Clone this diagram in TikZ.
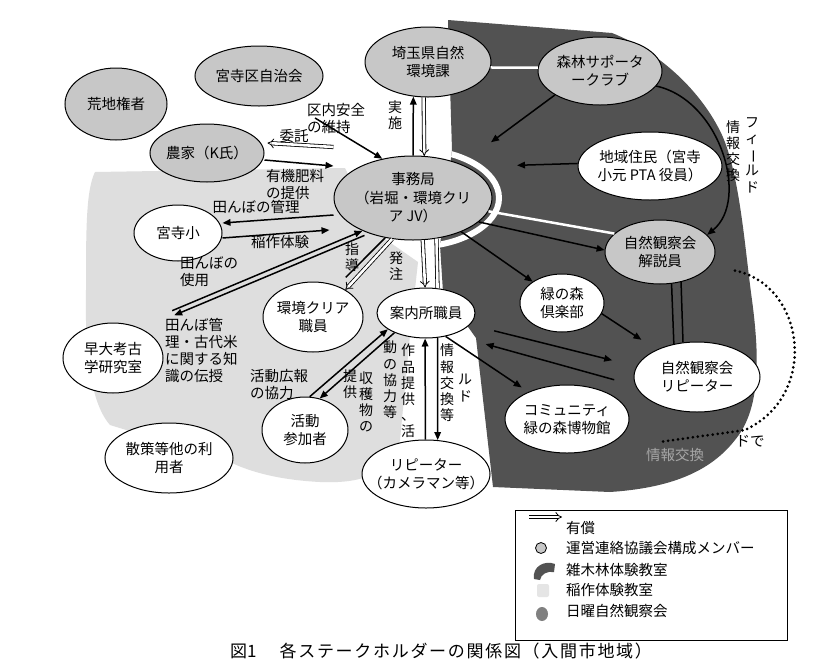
\documentclass[tikz,border=0pt]{standalone}
\usepackage{fontspec}
\usepackage{graphicx}
\setmainfont{Noto Sans CJK JP}
\usetikzlibrary{arrows.meta,shapes.geometric}
\newcommand{\zb}[1]{\raisebox{-5.2pt}{\makebox[0pt]{\begin{tabular}{@{}c@{}}#1\end{tabular}}}}
\newcommand{\vbar}{\rotatebox[origin=c]{-90}{ー}}
\begin{document}
\begin{tikzpicture}[x=1pt,y=-1pt]
\tikzset{
  nd/.style={ellipse, draw=black, line width=1pt, inner sep=0pt, text height=0pt, text depth=0pt, font=\fontsize{14.5}{18.5}\selectfont},
  gnd/.style={nd, fill=black!22},
  wnd/.style={nd, fill=white},
  lbl/.style={font=\fontsize{14.5}{17}\selectfont, inner sep=0pt, align=center},
  vlbl/.style={font=\fontsize{14}{16.2}\selectfont, inner sep=0pt, align=center},
  lbll/.style={lbl, align=left, anchor=west},
  blkline/.style={line width=1.5pt, black},
  blk/.style={blkline, -{Triangle[length=8pt,width=6.5pt]}},
  hol/.style={double=white, double distance=2.6pt, line width=0.8pt, -{Implies}},
  dotline/.style={line width=3pt, dash pattern=on 0pt off 5pt, line cap=round},
}
\useasboundingbox (0,0) rectangle (836,670);
\fill[white] (0,0) rectangle (836,670);
% light region
\fill[black!13] (95,172) -- (345,168) -- (375,232) -- (418,262) -- (410,335) -- (400,440) .. controls (392,472) and (365,484) .. (320,482) .. controls (280,480) and (250,472) .. (230,462) -- (110,425) .. controls (88,400) and (85,340) .. (86,290) .. controls (86,230) and (86,190) .. (95,172) -- cycle;
% dark region
\fill[black!68] (448,20) -- (612,33) .. controls (660,52) and (702,92) .. (722,135) .. controls (740,175) and (745,250) .. (752,300) .. controls (760,360) and (760,410) .. (735,440) .. controls (710,472) and (670,488) .. (610,492) -- (493,487) -- (476,338) -- (443,292) -- (440,245) -- (452,150) -- cycle;
\begin{scope}
\clip (448,20) -- (612,33) .. controls (660,52) and (702,92) .. (722,135) .. controls (740,175) and (745,250) .. (752,300) .. controls (760,360) and (760,410) .. (735,440) .. controls (710,472) and (670,488) .. (610,492) -- (493,487) -- (476,338) -- (443,292) -- (440,245) -- (452,150) -- cycle;
\draw[white, line width=6pt] (413,198) ellipse [x radius=86pt, y radius=49pt];
\end{scope}

% nodes
\node[gnd, minimum width=102pt, minimum height=72pt] (arechi) at (116,104) {\zb{荒地権者}};
\node[gnd, minimum width=128pt, minimum height=60pt] (jichi) at (259,76) {\zb{宮寺区自治会}};
\node[gnd, minimum width=126pt, minimum height=70pt] (saitama) at (428,62) {\zb{埼玉県自然\\環境課}};
\node[gnd, minimum width=124pt, minimum height=68pt] (shinrin) at (600,71) {\zb{森林サポータ\\ークラブ}};
\node[gnd, minimum width=114pt, minimum height=58pt] (nouka) at (207,153) {\zb{農家（K氏）}};
\node[gnd, minimum width=158pt, minimum height=84pt] (jimu) at (413,198) {\zb{事務局\\（岩堀・環境クリ\\ア JV）}};
\node[wnd, minimum width=144pt, minimum height=68pt] (chiiki) at (650,166) {\zb{地域住民（宮寺\\小元 PTA 役員）}};
\node[gnd, minimum width=110pt, minimum height=64pt] (kaisetsu) at (660,252) {\zb{自然観察会\\解説員}};
\node[wnd, minimum width=88pt, minimum height=56pt] (miyadera) at (178,233) {\zb{宮寺小}};
\node[wnd, minimum width=100pt, minimum height=70pt] (sodai) at (113,358) {\zb{早大考古\\学研究室}};
\node[wnd, minimum width=100pt, minimum height=70pt] (kankyo) at (313,317) {\zb{環境クリア\\職員}};
\node[wnd, minimum width=98pt, minimum height=50pt] (annai) at (426,313) {\zb{案内所職員}};
\node[wnd, minimum width=84pt, minimum height=58pt] (midori) at (562,303) {\zb{緑の森\\倶楽部}};
\node[wnd, minimum width=126pt, minimum height=70pt] (repeater) at (697,377) {\zb{自然観察会\\リピーター}};
\node[wnd, minimum width=124pt, minimum height=68pt] (museum) at (567,419) {\zb{コミュニティ\\緑の森博物館}};
\node[wnd, minimum width=86pt, minimum height=66pt] (katsudo) at (305,430) {\zb{活動\\参加者}};
\node[wnd, minimum width=128pt, minimum height=70pt] (sansaku) at (169,458) {\zb{散策等他の利\\用者}};
\node[wnd, minimum width=128pt, minimum height=68pt] (camera) at (426,474) {\zb{リピーター\\（カメラマン等）}};

\coordinate (k1) at (315,118);
\coordinate (dotend) at (660,442);

% connectors
\draw[blk] (jimu.90) -- (saitama.-113);
\draw[hol] (saitama.-97) -- (jimu.75);
\draw[white, line width=2.5pt] (saitama.-5) -- (shinrin.177);
\draw[blk] (k1) -- (jimu.128);
\draw[hol] ([yshift=51pt]jimu.west) -- ([xshift=3pt,yshift=10pt]nouka.east);
\draw[blk] ([yshift=-7pt]nouka.east) -- ([yshift=32pt]jimu.west);
\draw[blk] ([yshift=-17pt]jimu.west) -- ([yshift=10pt]miyadera.east);
\draw[blk] ([yshift=-5pt]miyadera.east) -- ([xshift=-4pt,yshift=-32pt]jimu.west);
\draw[blk, shorten <=40pt] (sodai.55) -- (jimu.213);
\draw[blk, shorten >=40pt] ([xshift=2pt,yshift=-4.6pt]jimu.213) -- ([xshift=2pt,yshift=-4.6pt]sodai.55);
\draw[blkline, shorten >=12pt] (jimu.235) -- (kankyo.52);
\draw[hol] (jimu.243) -- (kankyo.40);
\draw[hol] (jimu.-77) -- (annai.92);
\draw[hol, -] (jimu.-60) -- (annai.65);
\draw[blk] (katsudo.82) -- (annai.203);
\draw[blk] (annai.212) -- (katsudo.65);
\draw[blk] (camera.91) -- (annai.-92);
\draw[blk] (annai.-65) -- (camera.71);
\draw[blk, shorten >=37pt] (shinrin.208) -- (jimu.35);
\draw[blk, shorten >=50pt] (chiiki.178) -- (jimu.30);
\draw[white, line width=2.5pt] (jimu.-10) -- (kaisetsu.158);
\draw[blk] (jimu.-20) -- (kaisetsu.178);
\draw[blk] (jimu.-35) -- (midori.144);
\draw[blk, shorten >=18pt] (midori.-15) -- (repeater.146);
\draw[blkline] (kaisetsu.-70) -- (repeater.125);
\draw[blkline] (kaisetsu.-55) -- (repeater.112);
\draw[blk, shorten <=25pt, shorten >=25pt] (annai.-15) -- (repeater.170);
\draw[blk, shorten <=22pt, shorten >=35pt] (repeater.188) -- (annai.-40);
\draw[blk, shorten >=8pt] (annai.-50) -- (museum.145);
\draw[blk] (shinrin.-15) .. controls (720,100) and (750,200) .. (kaisetsu.20);
\draw[dotline, shorten <=25pt] (kaisetsu.-15) .. controls (805,285) and (820,395) .. (745,430) -- (dotend);

% labels
\node[vlbl] (ljisshi) at (395,115) {実\\施};
\node[lbll] (lkunai) at (307,118) {区内安全\\の維持};
\node[lbl] (litaku) at (294,136) {委託};
\node[lbll] (lyuki) at (266,184) {有機肥料\\の提供};
\node[lbl] (lkanri) at (256,207) {田んぼの管理};
\node[lbl] (linasaku) at (280,242) {稲作体験};
\node[lbll] (lshiyo) at (180,272) {田んぼの\\使用};
\node[lbll] (ldenju) at (165,350) {田んぼ管\\理・古代米\\に関する知\\識の伝授};
\node[vlbl] (lshido) at (352,257) {指\\導};
\node[vlbl] (lhatchu) at (396,266) {発\\注};
\node[lbll] (lkoho) at (250,385) {活動広報\\の協力};
\node[vlbl] (lteikyo) at (350,384) {提\\供};
\node[vlbl] (lshukaku) at (366,402) {収\\穫\\物\\の};
\node[vlbl] (lkyoryoku) at (390,380) {動\\の\\協\\力\\等};
\node[vlbl] (lsakuhin) at (408,391) {作\\品\\提\\供\\、\\活};
\node[vlbl] (ljoho) at (447,383) {情\\報\\交\\換\\等};
\node[vlbl] (lrudo) at (465,388) {ル\\ド};
\node[vlbl] (ljohob) at (733,151) {情\\報\\交\\換};
\node[vlbl] (lfield) at (752,155) {フ\\ィ\\\vbar\\ル\\ド};
\node[lbl] (ldode) at (750,441) {ドで};
\node[lbl, text=black!35] (ljohoc) at (675,455) {情報交換};

% legend
\node[draw=black, line width=1.3pt, minimum width=272pt, minimum height=130pt, inner sep=0pt, anchor=north west] (legend) at (515,510) {};
\coordinate (lga) at (529,517);
\coordinate (lgb) at (562,517);
\draw[hol] (lga) -- (lgb);
\node[lbll] (lt1) at (566,528) {有償};
\node[circle, draw=black, line width=0.8pt, fill=black!22, minimum size=11pt, inner sep=0pt] (lc) at (541,548) {};
\node[lbll] (lt2) at (566,548) {運営連絡協議会構成メンバー};
\fill[black!68] (534,579) .. controls (532,566) and (545,560) .. (555,564) -- (554,572) .. controls (547,571) and (541,574) .. (540,580) -- cycle;
\node[lbll] (lt3) at (566,570) {雑木林体験教室};
\fill[black!10, rounded corners=2pt] (537,584) rectangle (549,597);
\node[lbll] (lt4) at (566,590) {稲作体験教室};
\fill[black!50] (542,614) ellipse [x radius=6pt, y radius=7pt];
\node[lbll] (lt5) at (566,611) {日曜自然観察会};

% caption
\node[font=\fontsize{17}{20}\selectfont, anchor=west, inner sep=0pt] (cap) at (230,651) {図1\hspace{23pt}\addfontfeature{LetterSpace=10}各ステークホルダーの関係図（入間市地域）};
\end{tikzpicture}
\end{document}
